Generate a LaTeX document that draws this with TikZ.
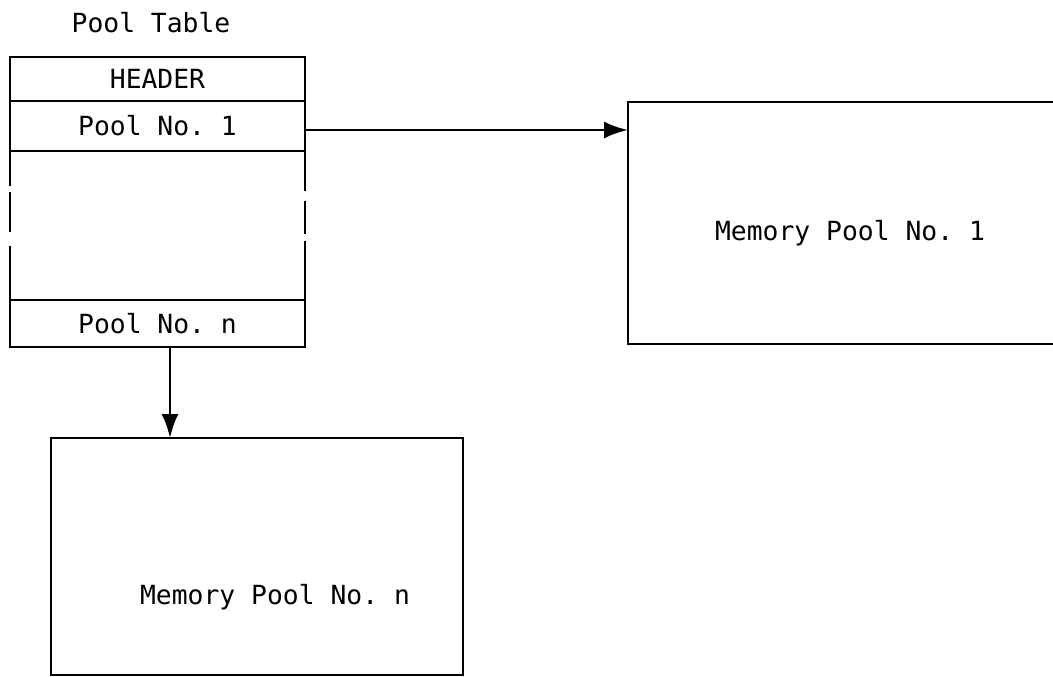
\documentclass[tikz,border=0pt]{standalone}
\usepackage{fontspec}
\setmonofont{DejaVu Sans Mono}
\usetikzlibrary{positioning, arrows.meta}

\begin{document}
\begin{tikzpicture}[font=\ttfamily\fontsize{15}{18}\selectfont, node distance=0pt,
    every node/.style={outer sep=0pt},
    row/.style={draw, line width=1.6pt, minimum width=5.9cm, inner sep=0pt},
    poolbox/.style={draw, line width=1.6pt, inner sep=0pt},
    link/.style={line width=1.5pt, -{Latex[length=0.48cm, width=0.34cm]}}]
    \useasboundingbox (0,0) rectangle (21.06,-13.54);
    \clip (0,0) rectangle (21.06,-13.54);

    % pool table
    \node (title) at (3.02,-0.46) {Pool Table};
    \node[row, minimum height=0.88cm, anchor=north west] (header) at (0.2,-1.14) {HEADER};
    \node[row, minimum height=1.0cm, below=of header] (pool1) {Pool No. 1};
    \node[row, draw=none, minimum height=2.98cm, below=of pool1] (gap) {};
    \node[row, minimum height=0.94cm, below=of gap] (pooln) {Pool No. n};
    \draw[line width=1.6pt, dash pattern=on 0.7cm off 0.12cm on 0.8cm off 0.28cm on 1.1cm]
      (gap.north west) -- (gap.south west);
    \draw[line width=1.6pt, dash pattern=on 0.8cm off 0.2cm on 0.66cm off 0.14cm on 1.2cm]
      (gap.north east) -- (gap.south east);

    % memory pools
    \node[poolbox, minimum width=9.5cm, minimum height=4.84cm, anchor=north west] (mem1) at (12.56,-2.04) {};
    \node (mem1text) at (17.0,-4.66) {Memory Pool No. 1};
    \node[poolbox, minimum width=8.24cm, minimum height=4.74cm, anchor=north west] (memn) at (1.02,-8.76) {};
    \node (memntext) at (5.5,-11.94) {Memory Pool No. n};

    \draw[link] ([yshift=-0.08cm]pool1.east) -- ([yshift=-0.08cm]pool1.east -| mem1.west);
    \draw[link] ([xshift=0.25cm]pooln.south) -- ([xshift=0.25cm]pooln.south |- memn.north);
\end{tikzpicture}
\end{document}
